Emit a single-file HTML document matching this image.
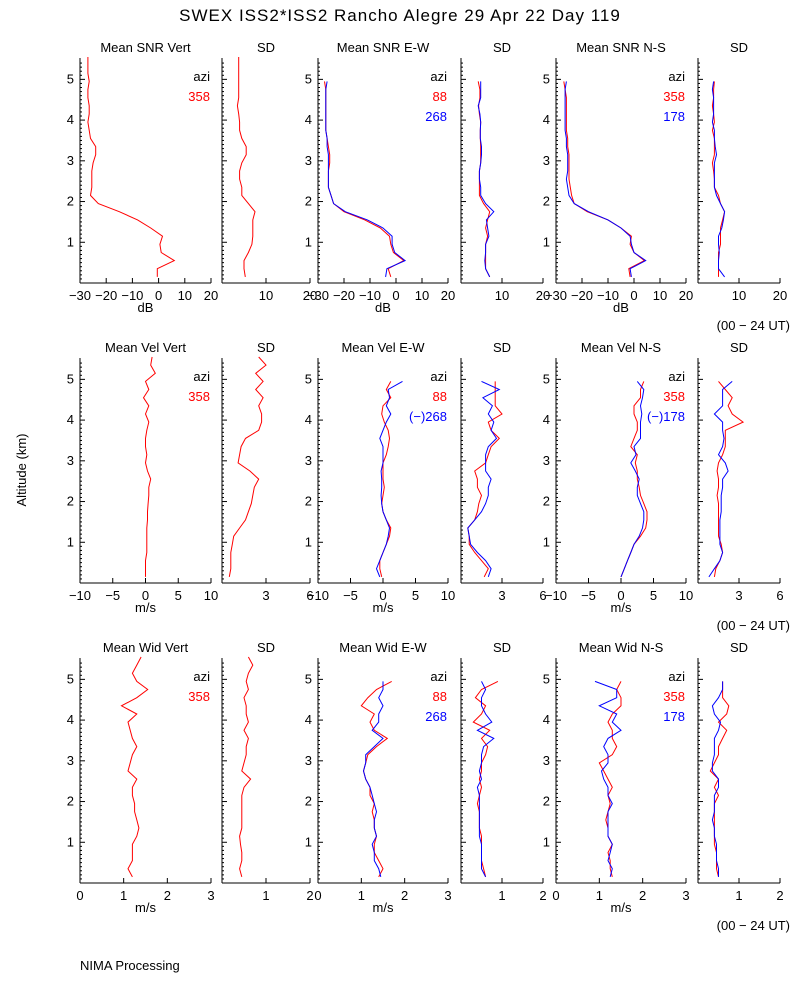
<!DOCTYPE html>
<html><head><meta charset="utf-8"><style>
body{margin:0;background:#fff;width:800px;height:1000px;overflow:hidden}
svg text{font-family:"Liberation Sans",sans-serif;font-size:13px}
</style></head><body>
<svg id="c" width="800" height="1000" xmlns="http://www.w3.org/2000/svg">
<rect width="800" height="1000" fill="#fff"/>
<text x="400" y="21" text-anchor="middle" style="font-size:17px;letter-spacing:1px">SWEX ISS2*ISS2 Rancho Alegre  29 Apr 22 Day 119</text>
<text transform="translate(26,470) rotate(-90)" text-anchor="middle">Altitude (km)</text>
<text x="80" y="970">NIMA Processing</text>
</svg>
<script>
const altitudes=[0.15,0.35,0.55,0.75,0.95,1.15,1.35,1.55,1.75,1.95,2.15,2.35,2.55,2.75,2.95,3.15,3.35,3.55,3.75,3.95,4.15,4.35,4.55,4.75,4.95,5.15,5.35,5.55];
// Row 1 SNR
const snrVert=[-0.5,-0.5,6,1,0.5,1.5,-3,-8,-15,-23,-26,-25.5,-25.5,-25.5,-25,-24,-24,-26,-26.5,-27,-26.5,-26.5,-27,-27,-26.5,-27,-27,-27];
const snrVertSd=[5.3,5,5,6,6.8,7,7,7,7.5,6,4.5,4.5,4,4,4.5,5.5,5.5,4.5,4,4,3.8,3.5,3.8,3.8,3.8,3.8,3.8,3.8];
const snrEw88=[-2,-3,3,-1,-2,-2.5,-6,-12,-20,-24,-25,-26,-26,-26,-25.5,-25.5,-26,-26.5,-27,-27,-27,-27,-27,-27,-27.5];
const snrEw268=[-4,-3.5,3.5,-0.5,-1.5,-1.5,-5,-11,-19.5,-24,-25,-26,-26,-26,-26,-26,-26.5,-26.5,-27,-27,-27,-27,-27,-27,-26.5];
const snrEwSd88=[7,6,6,6,6,6.5,6,6.5,7,5.5,4.5,4.5,4.5,4.5,4.8,4.8,4.8,4.7,4.7,4.8,4.5,4.3,4.6,4.6,4.2];
const snrEwSd268=[7,6,5.8,6,6,6.8,6.5,6.2,8,6,4.8,4.8,4.5,4.5,4.8,5,5,4.7,4.7,4.8,4.6,4.2,4.8,4.8,4.8];
const snrNs358=[-1.5,-2,4,0,-1.5,-1,-5,-10,-18,-23,-24,-24.5,-25,-25,-25,-25,-25.5,-25.5,-26,-26,-26,-26,-26,-26.5,-27];
const snrNs178=[-1,-1.5,4.5,0,-1,-1.5,-5,-10,-17.5,-23,-25,-25.5,-26,-25.5,-25.5,-25.5,-26,-26,-26.5,-26.5,-26.5,-26.5,-26.5,-26.5,-26];
const snrNsSd358=[5,5,5,5,5.5,5.5,5.5,6,6.5,5.5,5,4,4,3.8,3.5,4,4,4,3.5,4,3.8,3.5,3.8,3.8,4];
const snrNsSd178=[6.5,5,5,5.2,5,5,5.8,6.2,6.5,5.5,4.5,4,4,4,4,4.5,4.2,4,4,3.5,3.8,3.8,3.8,3.5,3.8];
// Row 2 velocity
const velVert=[0,0,0,0.2,0.2,0.2,0.2,0.3,0.3,0.4,0.5,0.5,0.8,0.3,0,0.2,0,0,0.2,0.5,0,0.5,-0.3,0.5,0,1.5,0.8,1];
const velVertSd=[0.5,0.6,0.6,0.6,0.7,0.8,1.2,1.6,1.8,2,2.1,2.2,2.5,1.9,1.1,1.2,1.3,1.6,2.5,2.7,2.7,2.5,2.8,2.3,2.8,2.3,3,2.5];
const velEw88=[-0.2,-0.5,-0.5,0,0.5,1,1.2,0.5,0,-0.2,0,0.2,0,0,0,0.5,0.8,1,0.8,0.2,-0.2,0,1.2,0.5,1.2];
const velEw268=[-0.5,-1,-0.5,0,0.5,0.8,1,0.5,0,-0.2,-0.3,-0.2,-0.2,-0.3,0,0,0,-0.5,0,0.5,1.2,0.5,1,0.8,3];
const velEwSd88=[1.7,2,1.5,1,0.6,0.6,0.5,1,1.2,1.3,1.5,1.2,1.2,1,1.8,2,2.2,2.8,2.2,2,3,2.5,2.5,2.5,2.5];
const velEwSd268=[2,2.2,1.8,1.2,0.7,0.6,0.5,1,1.5,1.8,2,2,2.2,1.8,1.8,1.8,2,2.6,2.2,2.4,2,2.3,1.6,2.8,1.5];
const velNs358=[0,0.5,1,1.5,2,3,3.8,4,4,3.5,3,2.8,2.5,2.5,2.2,2.5,1.5,2,2.5,2.5,2,2,3,3,3.5];
const velNs178=[0,0.5,1,1.5,2,2.8,3.3,3.5,3.5,3,2.5,2.5,2.8,2.2,1.5,2.3,2,3,3,3,3.2,3,3.3,3.5,2.5];
const velNsSd358=[1.2,1.3,1.6,1.8,1.7,1.5,1.5,1.5,1.5,1.5,1.4,1.5,1.5,1.4,1.5,1.8,2,2,2,3.3,2.5,2.2,2.5,2,1.5];
const velNsSd178=[0.8,1.2,1.6,1.8,1.6,1.6,1.6,1.6,1.7,1.7,1.7,1.8,1.8,2.2,2,1.5,1.8,1.9,1.8,1.8,1.2,1.8,1.8,1.8,2.5];
// Row 3 width
const widVert=[1.2,1.1,1.2,1.2,1.2,1.3,1.35,1.3,1.25,1.25,1.2,1.2,1.3,1.1,1.15,1.2,1.3,1.2,1.15,1.1,1.3,0.95,1.3,1.55,1.3,1.2,1.3,1.4];
const widVertSd=[0.45,0.4,0.45,0.45,0.42,0.4,0.45,0.45,0.45,0.45,0.45,0.5,0.65,0.45,0.5,0.55,0.55,0.6,0.5,0.6,0.55,0.55,0.5,0.6,0.55,0.6,0.7,0.6];
const widEw88=[1.4,1.5,1.4,1.3,1.3,1.35,1.3,1.3,1.25,1.3,1.2,1.2,1.1,1.05,1.1,1.15,1.35,1.6,1.3,1.2,1.3,1.0,1.15,1.35,1.7];
const widEw268=[1.45,1.4,1.3,1.3,1.25,1.35,1.3,1.3,1.35,1.3,1.25,1.2,1.1,1.05,1.1,1.1,1.3,1.5,1.25,1.4,1.4,1.5,1.4,1.5,1.5];
const widEwSd88=[0.6,0.55,0.5,0.5,0.5,0.5,0.45,0.45,0.45,0.4,0.45,0.5,0.45,0.5,0.5,0.6,0.65,0.5,0.7,0.3,0.5,0.6,0.35,0.5,0.9];
const widEwSd268=[0.6,0.5,0.5,0.5,0.5,0.45,0.45,0.45,0.45,0.45,0.45,0.4,0.5,0.45,0.5,0.5,0.55,0.8,0.4,0.75,0.6,0.5,0.5,0.6,0.5];
const widNs358=[1.3,1.25,1.25,1.2,1.3,1.2,1.2,1.15,1.2,1.25,1.2,1.3,1.2,1.1,1.0,1.3,1.4,1.3,1.3,1.2,1.3,1.5,1.5,1.4,1.5];
const widNs178=[1.25,1.3,1.2,1.25,1.3,1.2,1.2,1.2,1.2,1.3,1.2,1.2,1.1,1.05,1.2,1.2,1.1,1.2,1.5,1.3,1.4,1.0,1.4,1.4,0.9];
const widNsSd358=[0.5,0.45,0.45,0.45,0.4,0.4,0.4,0.4,0.4,0.4,0.5,0.4,0.5,0.3,0.4,0.5,0.5,0.6,0.7,0.5,0.7,0.75,0.6,0.6,0.6];
const widNsSd178=[0.5,0.5,0.45,0.45,0.45,0.4,0.4,0.35,0.4,0.4,0.4,0.5,0.5,0.35,0.35,0.4,0.4,0.4,0.5,0.55,0.4,0.35,0.5,0.6,0.6];
const snrMeanTicks=[-30,-20,-10,0,10,20];
const snrSdTicks=[10,20];
const velMeanTicks=[-10,-5,0,5,10];
const velSdTicks=[3,6];
const widMeanTicks=[0,1,2,3];
const widSdTicks=[1,2];
const altTicks=[1,2,3,4,5];

const NS='http://www.w3.org/2000/svg';
const svg=document.getElementById('c');
const COLS=[[80,211],[222,310],[318,448],[461,543],[556,686],[698,780]];
function mk(tag,attrs,parent){const e=document.createElementNS(NS,tag);for(const k in attrs)e.setAttribute(k,attrs[k]);(parent||svg).appendChild(e);return e;}
const rows=[
 {unit:'dB',mean:[-30,20],sd:[0,20],mt:snrMeanTicks,st:snrSdTicks,titles:['Mean SNR Vert','SD','Mean SNR E-W','SD','Mean SNR N-S','SD'],
  series:[[[snrVert,'red']],[[snrVertSd,'red']],[[snrEw88,'red'],[snrEw268,'blue']],[[snrEwSd88,'red'],[snrEwSd268,'blue']],[[snrNs358,'red'],[snrNs178,'blue']],[[snrNsSd358,'red'],[snrNsSd178,'blue']]],
  leg:[['358'],['88','268'],['358','178']]},
 {unit:'m/s',mean:[-10,10],sd:[0,6],mt:velMeanTicks,st:velSdTicks,titles:['Mean Vel Vert','SD','Mean Vel E-W','SD','Mean Vel N-S','SD'],
  series:[[[velVert,'red']],[[velVertSd,'red']],[[velEw88,'red'],[velEw268,'blue']],[[velEwSd88,'red'],[velEwSd268,'blue']],[[velNs358,'red'],[velNs178,'blue']],[[velNsSd358,'red'],[velNsSd178,'blue']]],
  leg:[['358'],['88','(\u2212)268'],['358','(\u2212)178']]},
 {unit:'m/s',mean:[0,3],sd:[0,2],mt:widMeanTicks,st:widSdTicks,titles:['Mean Wid Vert','SD','Mean Wid E-W','SD','Mean Wid N-S','SD'],
  series:[[[widVert,'red']],[[widVertSd,'red']],[[widEw88,'red'],[widEw268,'blue']],[[widEwSd88,'red'],[widEwSd268,'blue']],[[widNs358,'red'],[widNs178,'blue']],[[widNsSd358,'red'],[widNsSd178,'blue']]],
  leg:[['358'],['88','268'],['358','178']]}
];
const rowNames=['snr','vel','wid'];
rows.forEach((row,r)=>{
 const bot=283+300*r, top=59+300*r;
 const yS=a=>bot-(a/5.5)*(bot-top);
 COLS.forEach((c,p)=>{
  const isMean=p%2===0;
  const dom=isMean?row.mean:row.sd;
  const xS=v=>c[0]+(v-dom[0])/(dom[1]-dom[0])*(c[1]-c[0]);
  const g=mk('g',{});
  
  
  const t=mk('text',{x:(c[0]+c[1])/2,y:top-7,'text-anchor':'middle'},g);t.textContent=row.titles[p];
  
  
  mk('line',{x1:c[0],y1:top-1,x2:c[0],y2:bot,stroke:'#000'},g);
  mk('line',{x1:c[0],y1:bot,x2:c[1],y2:bot,stroke:'#000'},g);
  for(let i=1;i<55;i++){const a=i/10;if(i%10===0)continue;mk('line',{x1:c[0],y1:yS(a),x2:c[0]+2,y2:yS(a),stroke:'#000'},g);}
  altTicks.forEach(a=>{mk('line',{x1:c[0],y1:yS(a),x2:c[0]+5,y2:yS(a),stroke:'#000'},g);
   if(isMean){const l=mk('text',{x:c[0]-6,y:yS(a)+4,'text-anchor':'end'},g);l.textContent=a;}});
  (isMean?row.mt:row.st).forEach(v=>{mk('line',{x1:xS(v),y1:bot,x2:xS(v),y2:bot-5,stroke:'#000'},g);
   const l=mk('text',{x:xS(v),y:bot+17,'text-anchor':'middle'},g);l.textContent=v<0?'\u2212'+(-v):v;});
  if(isMean){const u=mk('text',{x:(c[0]+c[1])/2,y:bot+29,'text-anchor':'middle'},g);u.textContent=row.unit;
   
   
   const lg=row.leg[p/2];
   const a=mk('text',{x:c[1]-1,y:top+22,'text-anchor':'end'},g);a.textContent='azi';
   
   
   lg.forEach((s,i)=>{const e=mk('text',{x:c[1]-1,y:top+42+20*i,'text-anchor':'end',fill:i?'blue':'red'},g);e.textContent=s;
    
    });}
  row.series[p].forEach(([vals,col])=>{
   const pts=vals.map((v,i)=>xS(v).toFixed(1)+','+yS(altitudes[i]).toFixed(1)).join(' ');
   const pl=mk('polyline',{points:pts,fill:'none',stroke:col,'stroke-width':1},g);
   
   
  });
 });
 const ut=mk('text',{x:790,y:bot+47,'text-anchor':'end'});ut.textContent='(00 \u2212 24 UT)';
 
 
});
</script>
</body></html>
